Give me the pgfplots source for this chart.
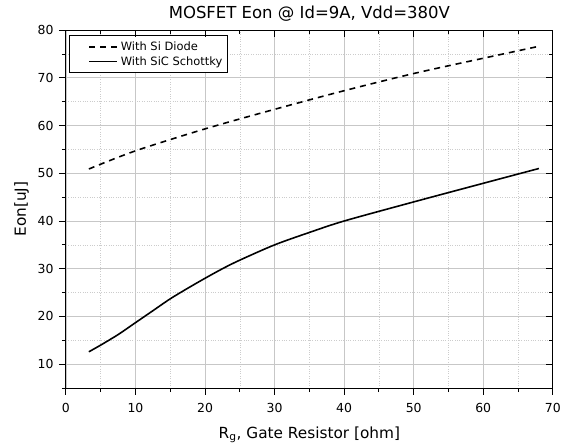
\documentclass[border=0pt]{standalone}
\usepackage{fontspec}
\setmainfont{DejaVu Sans}
\usepackage{pgfplots}
\pgfplotsset{compat=1.18}
\begin{document}
\begin{tikzpicture}
\pgfplotsset{
  common/.style={
    scale only axis, width=491bp, height=361bp,
    xmin=0, xmax=70, ymin=5, ymax=80,
    xtick={0,10,...,70}, ytick={10,20,...,80},
    minor xtick={5,15,...,65}, minor ytick={5,15,...,75},
    major tick length=7bp, minor tick length=4bp,
    axis line style={line width=1.1bp},
    every tick/.style={black, line width=0.9bp},
  }
}
\begin{axis}[common,
  tick align=outside,
  xtick pos=bottom, ytick pos=left,
  grid=both,
  major grid style={black!22, line width=0.7bp},
  minor grid style={black!20, dotted, line width=0.5bp},
  tick label style={font=\fontsize{12.6}{15}\selectfont},
  xticklabel style={yshift=-5bp},
  yticklabel style={xshift=-2bp},
  /pgf/number format/assume math mode=true,
  xlabel={R\textsubscript{g}, Gate Resistor [ohm]},
  ylabel={Eon[uJ]},
  label style={font=\fontsize{15.5}{18}\selectfont},
  xlabel style={yshift=-7bp},
  ylabel style={yshift=2bp},
  title={MOSFET Eon @ Id=9A, Vdd=380V},
  title style={font=\fontsize{16.7}{19}\selectfont, yshift=-1bp},
  legend style={at={(0.006,0.985)}, anchor=north west, draw=black, line width=0.7bp,
     font=\fontsize{11.6}{13}\selectfont, row sep=0.5bp, inner xsep=2.5bp, inner ysep=4bp},
  legend cell align=left,
  legend image code/.code={\path (-17bp,0bp) (29bp,0bp); \draw[#1] (0bp,0bp) -- (28bp,0bp);},
]
\addplot[black, line width=1.6bp, dash pattern=on 6bp off 5bp, smooth] coordinates {
(3.3,50.9) (10,54.7) (20,59.3) (30,63.4) (40,67.3) (50,70.9) (60,74.1) (68,76.6)};
\addlegendentry{With Si Diode}
\addplot[black, line width=1.6bp, smooth] coordinates {
(3.3,12.6) (5,14.0) (7.5,16.2) (10,18.7) (12.5,21.2) (15,23.7) (17.5,25.9) (20,28.0) (22.5,30.0) (25,31.8) (30,35.0) (35,37.6) (40,40.0) (50,44.0) (60,47.9) (68,51.0)};
\addlegendentry{With SiC Schottky}
\end{axis}
\begin{scope}[overlay]
\begin{axis}[common,
  tick align=inside,
  xtick pos=top, ytick pos=right,
  xticklabels={}, yticklabels={},
]
\end{axis}
\end{scope}
\path (current bounding box.west) ++(-11bp,0bp);
\path (current bounding box.north) ++(0bp,3bp);
\end{tikzpicture}
\end{document}
